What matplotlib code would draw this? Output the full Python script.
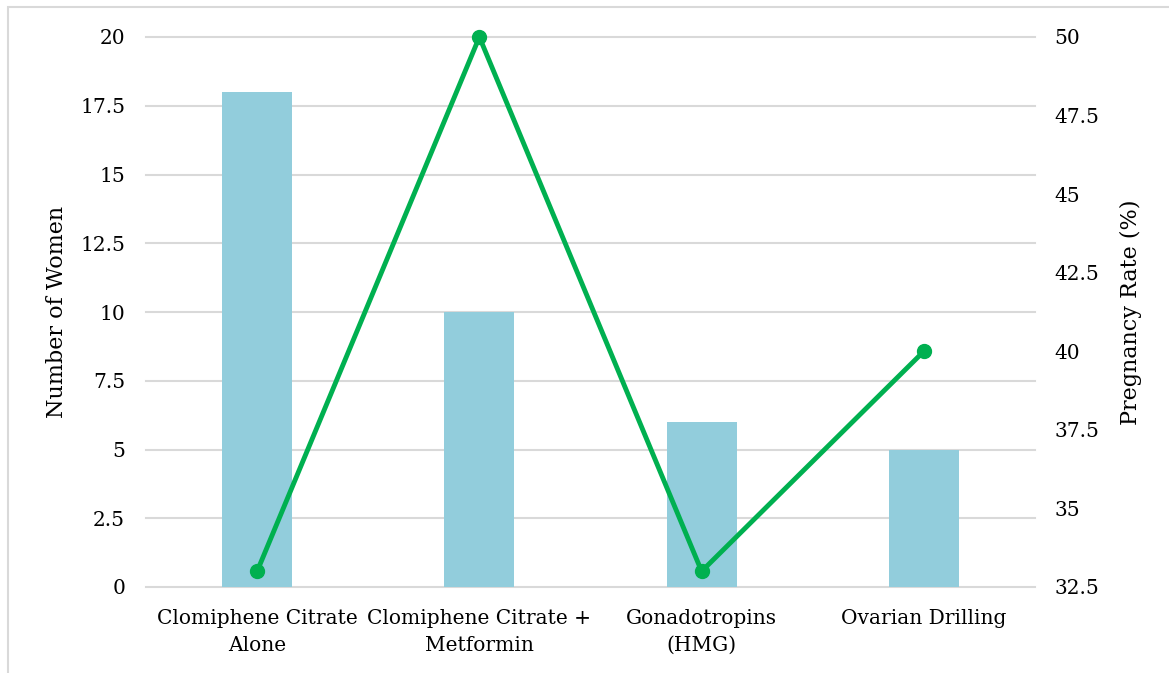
import matplotlib.pyplot as plt
from matplotlib.patches import Rectangle

treatments = ['Clomiphene Citrate\nAlone', 'Clomiphene Citrate +\nMetformin',
              'Gonadotropins\n(HMG)', 'Ovarian Drilling']
women = [18, 10, 6, 5]
pregnancy_rate = [33, 50, 33, 40]
left_ticks = [0, 2.5, 5, 7.5, 10, 12.5, 15, 17.5, 20]
right_ticks = [32.5, 35, 37.5, 40, 42.5, 45, 47.5, 50]

plt.rcParams['font.family'] = ['DejaVu Serif']
plt.rcParams['font.size'] = 14.5

fig = plt.figure(figsize=(11.69, 6.73), dpi=100)
ax = fig.add_axes([146 / 1169, 1 - 587 / 673, (1035 - 146) / 1169, 550 / 673])
x = range(len(treatments))

ax.bar(x, women, width=0.315, color='#92CDDC', zorder=2)
ax.set_ylim(0, 20)
ax.set_xlim(-0.5, 3.5)
ax.set_yticks(left_ticks)
ax.set_yticklabels(['0', '2.5', '5', '7.5', '10', '12.5', '15', '17.5', '20'])
ax.set_xticks(list(x))
ax.set_xticklabels(treatments, linespacing=1.5)
ax.yaxis.grid(True, color='#D9D9D9', linewidth=1.5, zorder=0)
for gl in ax.get_ygridlines():
    gl.set_clip_on(False)
ax.tick_params(length=0, pad=15)
ax.tick_params(axis='x', pad=16)
for s in ax.spines.values():
    s.set_visible(False)
ax.set_ylabel('Number of Women', fontsize=16, labelpad=9)

ax2 = ax.twinx()
ax2.plot(x, pregnancy_rate, color='#00B050', linewidth=3.5, marker='o',
         markersize=10, zorder=3, clip_on=False)
ax2.set_ylim(32.5, 50)
ax2.set_yticks(right_ticks)
ax2.set_yticklabels(['32.5', '35', '37.5', '40', '42.5', '45', '47.5', '50'])
ax2.tick_params(length=0, pad=14)
for s in ax2.spines.values():
    s.set_visible(False)
ax2.set_ylabel('Pregnancy Rate (%)', fontsize=16, labelpad=15)

# outer frame
fig.patches.append(Rectangle((8 / 1169, -0.01), 1.02, 1 - 7 / 673 + 0.01,
                             transform=fig.transFigure, fill=False,
                             edgecolor='#D9D9D9', linewidth=1.5))

fig.savefig('out.png', dpi=100)
